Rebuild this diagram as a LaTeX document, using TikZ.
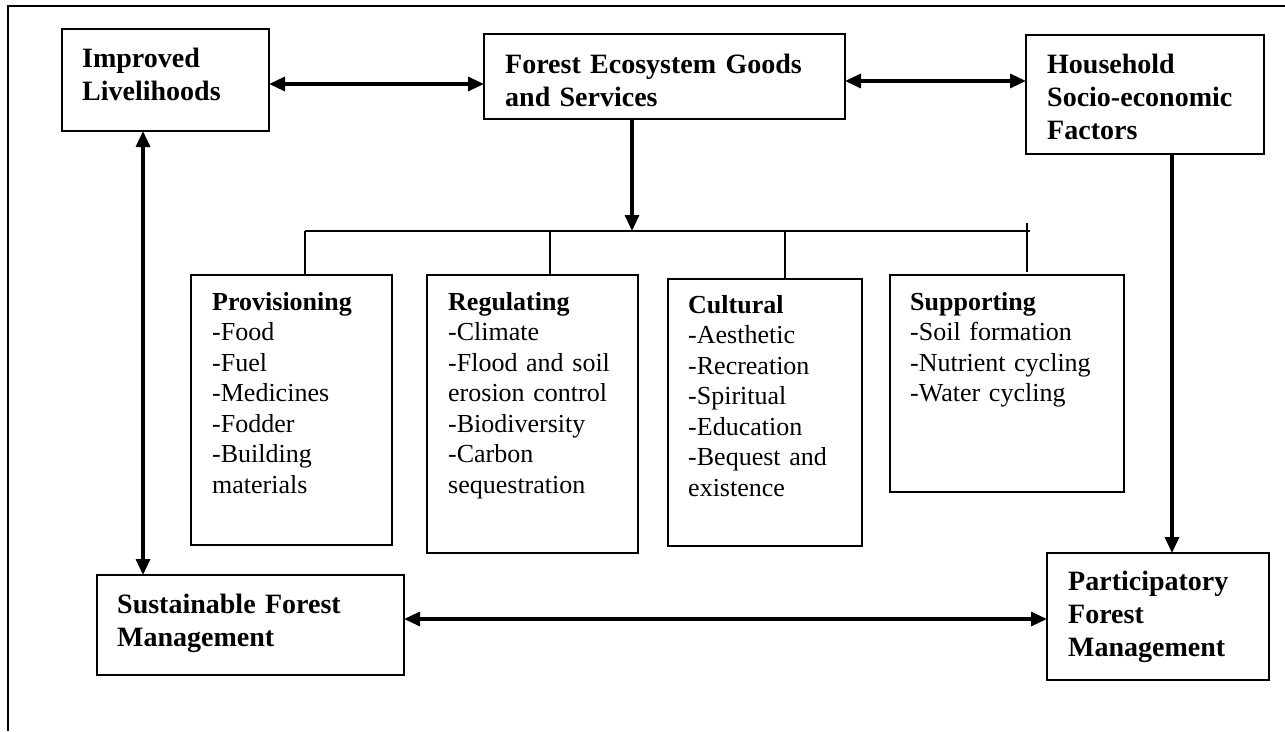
\documentclass[tikz,border=0pt]{standalone}
\usepackage{fontspec}
\setmainfont{Liberation Serif}
\usetikzlibrary{arrows.meta}
\begin{document}
\begin{tikzpicture}[x=1pt,y=-1pt,
  box/.style={draw, line width=1.9pt, inner sep=0pt, outer sep=0pt, anchor=north west},
  head/.style={anchor=base west, inner sep=0pt, text width=330pt, align=left,
    font=\fontsize{28}{33}\selectfont\bfseries},
  small/.style={anchor=base west, inner sep=0pt, text width=220pt, align=left,
    font=\fontsize{26}{30.5}\selectfont},
  conn/.style={line width=3.2pt, {Triangle[length=16pt,width=14pt]}-{Triangle[length=16pt,width=14pt]}},
  oneway/.style={line width=3.2pt, -{Triangle[length=16pt,width=14pt]}},
  branch/.style={line width=1.6pt},
  frame/.style={line width=2.6pt}]
\useasboundingbox (0,0) rectangle (1285,731);
\draw[frame] (1285,6) -- (8,6) -- (8,731);

% main boxes
\node[box, minimum width=207pt, minimum height=102pt] (imp) at (62,29) {};
\node[box, minimum width=361pt, minimum height=85pt] (fes) at (484,34) {};
\node[box, minimum width=238pt, minimum height=119pt] (hh) at (1026,35) {};
\node[box, minimum width=307pt, minimum height=100pt] (sfm) at (97,575) {};
\node[box, minimum width=222pt, minimum height=127pt] (pfm) at (1047,553) {};

\node[head] (impt) at (82,67) {Improved\\Livelihoods};
\node[head] (fest) at (505,73) {Forest Ecosystem Goods\\and Services};
\node[head] (hht) at (1047,73) {Household\\Socio-economic\\Factors};
\node[head] (sfmt) at (117,613) {Sustainable Forest\\Management};
\node[head] (pfmt) at (1068,590) {Participatory\\Forest\\Management};

% service boxes
\node[box, minimum width=201pt, minimum height=270pt] (prov) at (191,275) {};
\node[box, minimum width=211pt, minimum height=278pt] (reg) at (427,275) {};
\node[box, minimum width=194pt, minimum height=267pt] (cul) at (668,279) {};
\node[box, minimum width=234pt, minimum height=217pt] (sup) at (890,275) {};

\node[small] (provt) at (212,310) {\textbf{Provisioning}\\-Food\\-Fuel\\-Medicines\\-Fodder\\-Building\\materials};
\node[small] (regt) at (448,310) {\textbf{Regulating}\\-Climate\\-Flood and soil\\erosion control\\-Biodiversity\\-Carbon\\sequestration};
\node[small] (cult) at (688,313) {\textbf{Cultural}\\-Aesthetic\\-Recreation\\-Spiritual\\-Education\\-Bequest and\\existence};
\node[small] (supt) at (910,310) {\textbf{Supporting}\\-Soil formation\\-Nutrient cycling\\-Water cycling};

% helper coordinates
\coordinate (ya) at (0,84);
\coordinate (yb) at (0,81);
\coordinate (yc) at (0,619);
\coordinate (xa) at (143,0);
\coordinate (xb) at (1172,0);
\coordinate (xc) at (632,0);
\coordinate (bl) at (305,231);
\coordinate (br) at (1030,231);
\coordinate (bm) at (632,231);
\coordinate (x1) at (305,0);
\coordinate (x2) at (550,0);
\coordinate (x3) at (785,0);
\coordinate (t1) at (1027,223);
\coordinate (t2) at (1027,272);

% connectors
\draw[conn] (imp.east |- ya) -- (fes.west |- ya);
\draw[conn] (fes.east |- yb) -- (hh.west |- yb);
\draw[conn] (imp.south -| xa) -- (sfm.north -| xa);
\draw[conn] (sfm.east |- yc) -- (pfm.west |- yc);
\draw[oneway] (hh.south -| xb) -- (pfm.north -| xb);
\draw[oneway] (fes.south -| xc) -- (bm);

% branch
\draw[branch] (bl) -- (br);
\draw[branch] (bl) -- (prov.north -| x1);
\draw[branch] (bl -| x2) -- (reg.north -| x2);
\draw[branch] (bl -| x3) -- (cul.north -| x3);
\draw[branch] (t1) -- (t2);
\end{tikzpicture}
\end{document}
